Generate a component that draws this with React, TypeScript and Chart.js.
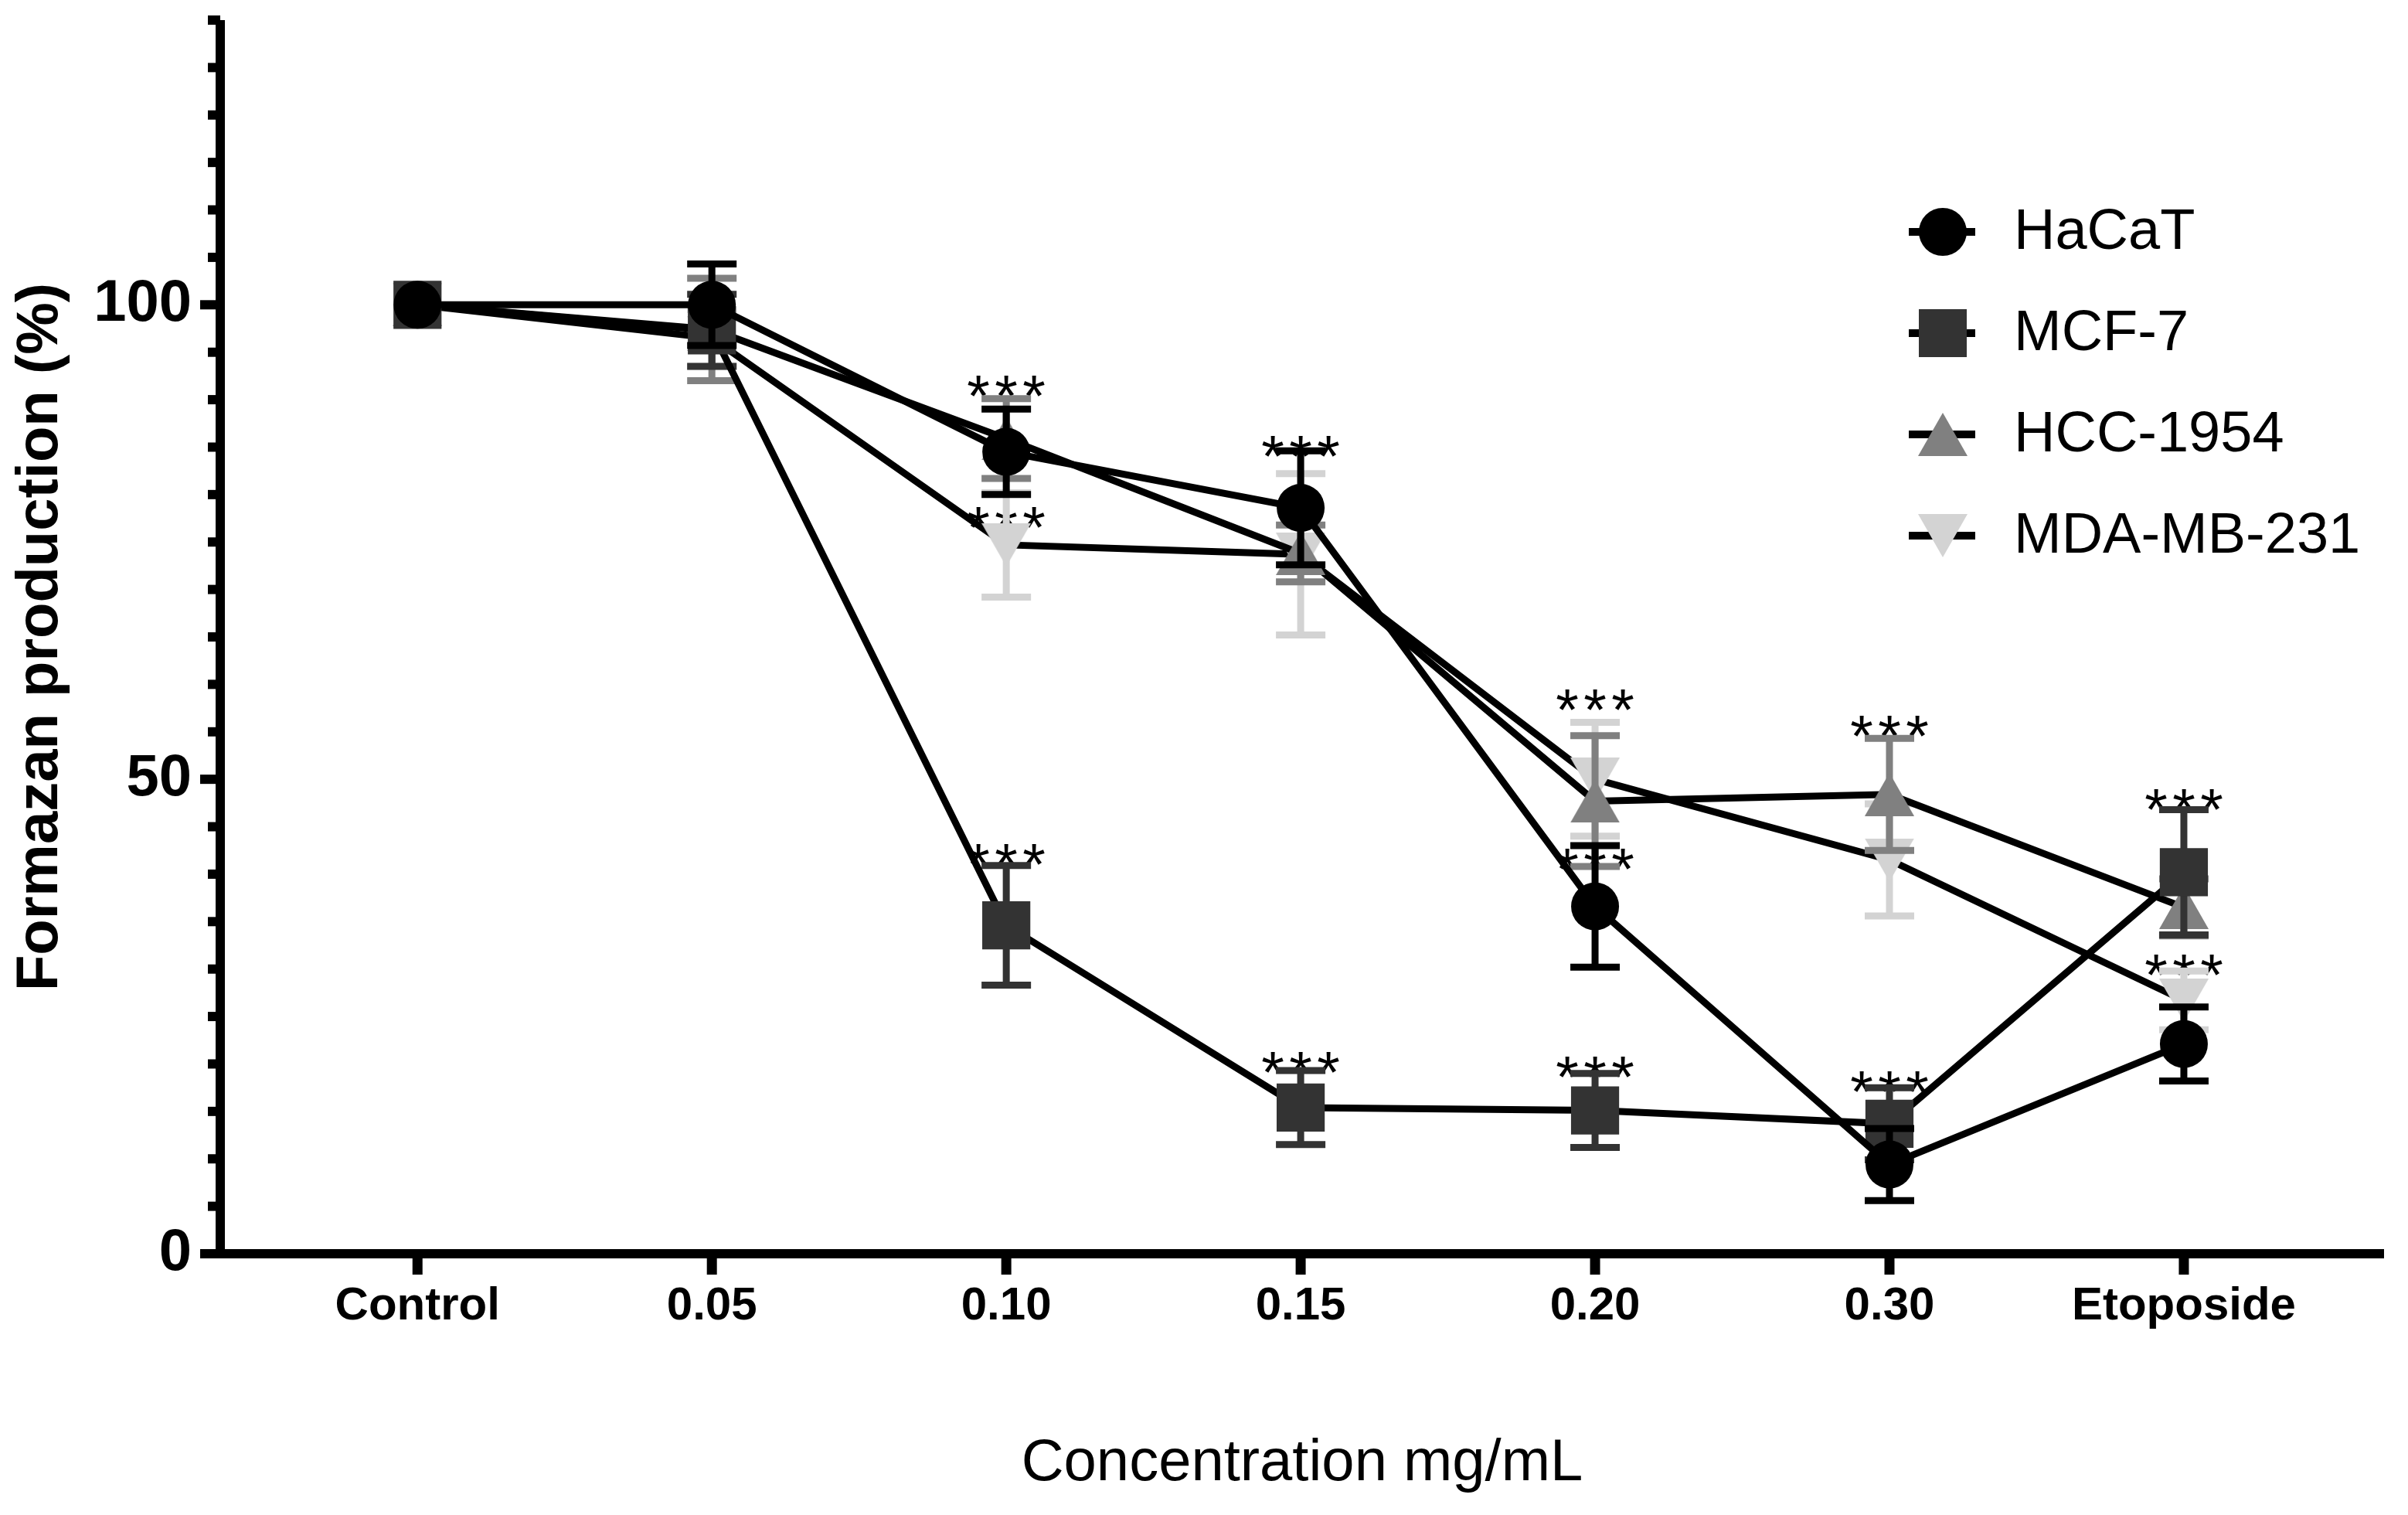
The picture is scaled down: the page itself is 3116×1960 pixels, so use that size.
import { useEffect, useRef } from "react";
import { Chart, registerables } from "chart.js";

Chart.register(...registerables);

// x categories and labelled y ticks
const CATEGORIES = ["Control", "0.05", "0.10", "0.15", "0.20", "0.30", "Etoposide"];
const Y_LABELLED = [0, 50, 100];

const SERIES_NAMES = ["HaCaT", "MCF-7", "HCC-1954", "MDA-MB-231"];

// mean values (%)
const HACAT = [100, 100, 84.5, 78.6, 36.6, 9.4, 22.1];
const MCF7 = [100, 97.3, 34.6, 15.4, 15.1, 13.7, 40.2];
const HCC1954 = [100, 97.4, 85.9, 73.8, 47.7, 48.4, 36.5];
const MDAMB231 = [100, 96.5, 74.7, 73.7, 50.0, 41.5, 26.7];

// error bar half-lengths
const HACAT_ERR = [0, 4.3, 4.5, 6.0, 6.4, 3.8, 3.9];
const MCF7_ERR = [0, 3.8, 6.3, 3.9, 3.9, 3.8, 6.6];
const HCC1954_ERR = [0, 5.4, 4.2, 3.0, 6.9, 5.9, 3.0];
const MDAMB231_ERR = [0, 3.0, 5.5, 8.5, 6.0, 5.9, 3.1];

// "***" annotations: [category index, y value]
const STARS: [number, number][] = [
  [2, 91.9], [2, 78], [2, 42.5],
  [3, 85.5], [3, 20.6],
  [4, 58.8], [4, 42.0], [4, 20.1],
  [5, 56], [5, 18.6],
  [6, 48.3], [6, 30.9],
];

const VALUES = [HACAT, MCF7, HCC1954, MDAMB231];
const ERRORS = [HACAT_ERR, MCF7_ERR, HCC1954_ERR, MDAMB231_ERR];
const COLORS = ["#000000", "#333333", "#808080", "#d3d3d3"];
const SHAPES = ["circle", "square", "up", "down"];

const FONT = "'Liberation Sans', Arial, sans-serif";
const W = 3116;
const H = 1960;
const TRI_W = 64;
const TRI_H = 56;

function makeTriangle(color: string, down: boolean) {
  const c = document.createElement("canvas");
  c.width = TRI_W;
  c.height = TRI_H;
  const g = c.getContext("2d")!;
  g.fillStyle = color;
  g.beginPath();
  if (down) {
    g.moveTo(0, 0);
    g.lineTo(TRI_W, 0);
    g.lineTo(TRI_W / 2, TRI_H);
  } else {
    g.moveTo(0, TRI_H);
    g.lineTo(TRI_W / 2, 0);
    g.lineTo(TRI_W, TRI_H);
  }
  g.closePath();
  g.fill();
  return c;
}

function drawMarker(ctx: CanvasRenderingContext2D, shape: string, x: number, y: number, color: string) {
  const hw = TRI_W / 2;
  const hh = TRI_H / 2;
  ctx.fillStyle = color;
  ctx.beginPath();
  if (shape === "circle") {
    ctx.arc(x, y, 31, 0, Math.PI * 2);
  } else if (shape === "square") {
    ctx.rect(x - 31, y - 31, 62, 62);
  } else if (shape === "up") {
    ctx.moveTo(x - hw, y + hh);
    ctx.lineTo(x, y - hh);
    ctx.lineTo(x + hw, y + hh);
  } else {
    ctx.moveTo(x - hw, y - hh);
    ctx.lineTo(x + hw, y - hh);
    ctx.lineTo(x, y + hh);
  }
  ctx.closePath();
  ctx.fill();
}

const axesPlugin = {
  id: "prismAxes",
  beforeDatasetsDraw(chart: Chart) {
    const { ctx, chartArea, scales } = chart;
    const x = scales.x;
    const y = scales.y;
    ctx.save();
    ctx.strokeStyle = "#000";
    ctx.lineCap = "butt";

    // stars sit under the data
    ctx.fillStyle = "#000";
    ctx.font = `76px ${FONT}`;
    ctx.textAlign = "center";
    ctx.textBaseline = "alphabetic";
    STARS.forEach(([i, v]) => {
      const px = x.getPixelForValue(i);
      const py = y.getPixelForValue(v) + 44;
      [-36, 0, 36].forEach((dx) => ctx.fillText("*", px + dx, py));
    });

    // axis lines
    ctx.lineWidth = 12;
    ctx.beginPath();
    ctx.moveTo(chartArea.left, chartArea.top);
    ctx.lineTo(chartArea.left, chartArea.bottom + 6);
    ctx.moveTo(chartArea.left - 6, chartArea.bottom);
    ctx.lineTo(chartArea.right, chartArea.bottom);
    ctx.stroke();

    // y ticks, long on labelled values
    y.ticks.forEach((t) => {
      const py = y.getPixelForValue(t.value);
      const len = Y_LABELLED.includes(t.value) ? 26 : 16;
      ctx.beginPath();
      ctx.moveTo(chartArea.left - len, py);
      ctx.lineTo(chartArea.left, py);
      ctx.stroke();
    });

    // x ticks at each category
    ctx.lineWidth = 13;
    x.ticks.forEach((t) => {
      const px = x.getPixelForValue(t.value);
      ctx.beginPath();
      ctx.moveTo(px, chartArea.bottom);
      ctx.lineTo(px, chartArea.bottom + 27);
      ctx.stroke();
    });
    ctx.restore();
  },
  beforeDatasetDraw(chart: Chart, args: { index: number }) {
    const { ctx, scales } = chart;
    const x = scales.x;
    const y = scales.y;
    const vals = VALUES[args.index];
    const errs = ERRORS[args.index];
    ctx.save();
    ctx.strokeStyle = COLORS[args.index];
    ctx.lineWidth = 9;
    vals.forEach((v, i) => {
      const e = errs[i];
      if (!e) return;
      const px = x.getPixelForValue(i);
      const top = y.getPixelForValue(v + e);
      const bot = y.getPixelForValue(v - e);
      ctx.beginPath();
      ctx.moveTo(px, top);
      ctx.lineTo(px, bot);
      ctx.moveTo(px - 32, top);
      ctx.lineTo(px + 32, top);
      ctx.moveTo(px - 32, bot);
      ctx.lineTo(px + 32, bot);
      ctx.stroke();
    });
    ctx.restore();
  },
  afterDraw(chart: Chart) {
    const { ctx } = chart;
    ctx.save();
    const rows = [300, 431, 562, 693];
    SERIES_NAMES.forEach((name, i) => {
      const cy = rows[i];
      ctx.strokeStyle = "#000";
      ctx.lineWidth = 10;
      ctx.beginPath();
      ctx.moveTo(2470, cy);
      ctx.lineTo(2556, cy);
      ctx.stroke();
      drawMarker(ctx, SHAPES[i], 2514, cy, COLORS[i]);
      ctx.fillStyle = "#000";
      ctx.font = `74px ${FONT}`;
      ctx.textAlign = "left";
      ctx.textBaseline = "middle";
      ctx.fillText(name, 2606, cy + 2);
    });
    ctx.restore();
  },
};

export default function App() {
  const canvasRef = useRef<HTMLCanvasElement>(null);

  useEffect(() => {
    if (!canvasRef.current) return;
    const ctx = canvasRef.current.getContext("2d");
    if (!ctx) return;

    const pointStyles: any[] = [
      "circle",
      "rect",
      makeTriangle(COLORS[2], false),
      makeTriangle(COLORS[3], true),
    ];
    const radii = [31, 44, 32, 32];

    const chart = new Chart(ctx, {
      type: "line",
      data: {
        datasets: SERIES_NAMES.map((name, s) => ({
          label: name,
          data: VALUES[s].map((v, i) => ({ x: i, y: v })),
          borderColor: "#000",
          borderWidth: 9,
          backgroundColor: COLORS[s],
          pointBackgroundColor: COLORS[s],
          pointBorderWidth: 0,
          pointRadius: radii[s],
          pointStyle: pointStyles[s],
          tension: 0,
          fill: false,
          clip: false as any,
        })),
      },
      options: {
        responsive: true,
        maintainAspectRatio: false,
        animation: false,
        devicePixelRatio: 1,
        events: [],
        layout: { autoPadding: false, padding: { top: 26, right: 31, left: 0, bottom: 0 } },
        plugins: {
          legend: { display: false },
          tooltip: { enabled: false },
        },
        scales: {
          x: {
            type: "linear",
            min: -0.67,
            max: 6.68,
            afterBuildTicks: (s: any) => {
              s.ticks = CATEGORIES.map((_, i) => ({ value: i }));
            },
            afterFit: (s: any) => {
              s.height = 338;
              s.paddingLeft = 0;
              s.paddingRight = 0;
            },
            grid: { display: false, drawTicks: false },
            border: { display: false },
            ticks: {
              autoSkip: false,
              maxRotation: 0,
              padding: 32,
              color: "#000",
              font: { family: FONT, size: 60, weight: "bold" },
              callback: (v: any) => CATEGORIES[Math.round(Number(v))] ?? "",
            },
            title: {
              display: true,
              text: "Concentration mg/mL",
              color: "#000",
              font: { family: FONT, size: 76 },
              padding: { top: 0, bottom: 20 },
            },
          },
          y: {
            min: 0,
            max: 130,
            afterFit: (s: any) => {
              s.width = 285;
              s.paddingTop = 0;
              s.paddingBottom = 0;
            },
            grid: { display: false, drawTicks: false },
            border: { display: false },
            ticks: {
              stepSize: 5,
              maxTicksLimit: 100,
              autoSkip: false,
              padding: 37,
              color: "#000",
              font: { family: FONT, size: 76, weight: "bold" },
              callback: (v: any) => (Y_LABELLED.includes(Number(v)) ? String(v) : ""),
            },
            title: {
              display: true,
              text: "Formazan production (%)",
              color: "#000",
              font: { family: FONT, size: 76, weight: "bold" },
              padding: { top: 7, bottom: 0 },
            },
          },
        },
      },
      plugins: [axesPlugin as any],
    });

    return () => {
      chart.destroy();
    };
  }, []);

  return (
    <div style={{ position: "fixed", left: 0, top: 0, width: W, height: H, background: "#fff" }}>
      <canvas ref={canvasRef} />
    </div>
  );
}
